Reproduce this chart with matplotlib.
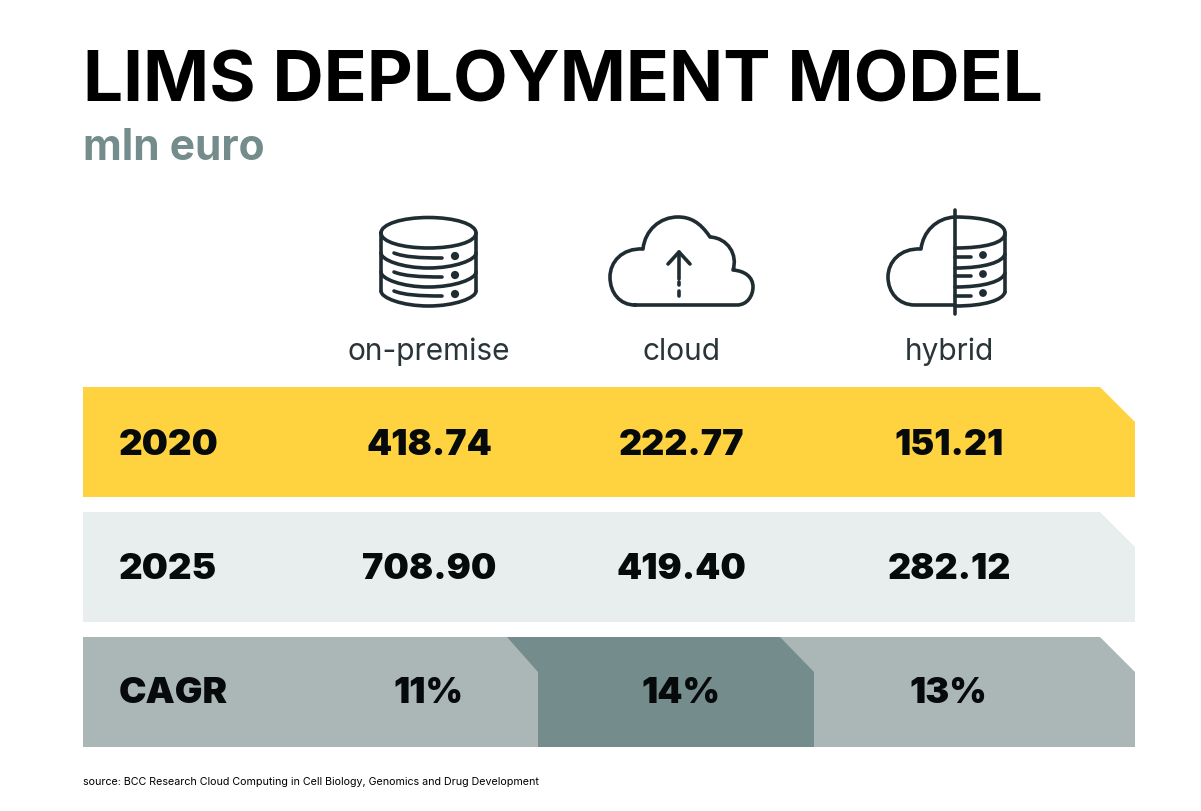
import matplotlib
matplotlib.use("Agg")
import matplotlib.pyplot as plt
from matplotlib.patches import Polygon, Circle, PathPatch
from matplotlib.path import Path

plt.rcParams['font.family'] = ['Inter', 'DejaVu Sans']

title = "LIMS DEPLOYMENT MODEL"
subtitle = "mln euro"
source = "source: BCC Research Cloud Computing in Cell Biology, Genomics and Drug Development"

models = ["on-premise", "cloud", "hybrid"]
row_labels = ["2020", "2025", "CAGR"]
values_2020 = ["418.74", "222.77", "151.21"]
values_2025 = ["708.90", "419.40", "282.12"]
values_cagr = ["11%", "14%", "13%"]

YELLOW = "#FFD23F"
LIGHT = "#E8EDED"
GREY = "#ABB7B7"
DARK = "#748C8C"
INK = "#1F2D32"
TEXT = "#060A0A"

fig = plt.figure(figsize=(12.01, 8.11), dpi=100)
ax = fig.add_axes([0, 0, 1, 1])
ax.set_xlim(0, 1201)
ax.set_ylim(811, 0)
ax.axis("off")


def notched(x0, x1, y0, y1, color, left_cut=None, z=1):
    # band with the cut top right corner
    pts = [(x0, y1), (x0, y0), (x1 - 35, y0), (x1, y0 + 35), (x1, y1)]
    if left_cut:
        pts = [(x0, y1), (x0, y0 + 35), (left_cut, y0), (x1 - 34, y0), (x1, y0 + 35), (x1, y1)]
    ax.add_patch(Polygon(pts, closed=True, fc=color, ec="none", zorder=z))


def stroke(verts, codes=None, lw=2.6):
    if codes is None:
        codes = [Path.MOVETO] + [Path.LINETO] * (len(verts) - 1)
    ax.add_patch(PathPatch(Path(verts, codes), fc="none", ec=INK, lw=lw,
                           capstyle="round", joinstyle="round", zorder=3))


def curve(points):
    # points: start, then (c1, c2, end) triples
    verts = [points[0]]
    codes = [Path.MOVETO]
    for c1, c2, end in points[1:]:
        verts += [c1, c2, end]
        codes += [Path.CURVE4] * 3
    stroke(verts, codes)


# --- bands
notched(83, 1135, 387, 497, YELLOW)
notched(83, 1135, 512, 622, LIGHT)
notched(83, 1135, 637, 747, GREY)
notched(538, 814, 637, 747, DARK, left_cut=507, z=2)

# --- database icon
cx, rx = 428.5, 47.5
curve([(cx - rx, 233), ((cx - rx, 224), (cx - 26, 217.5), (cx, 217.5)), ((cx + 26, 217.5), (cx + rx, 224), (cx + rx, 233)),
       ((cx + rx, 242), (cx + 26, 248), (cx, 248)), ((cx - 26, 248), (cx - rx, 242), (cx - rx, 233))])
stroke([(cx - rx, 233), (cx - rx, 291)])
stroke([(cx + rx, 233), (cx + rx, 291)])
for y_side, y_low in [(253, 268), (272, 287), (291, 306)]:
    curve([(cx - rx, y_side), ((cx - rx, y_low - 8), (cx - 26, y_low), (cx, y_low)),
           ((cx + 26, y_low), (cx + rx, y_low - 8), (cx + rx, y_side))])
for y in [256, 275, 294]:
    curve([(394, y - 3), ((404, y + 1), (420, y + 2), (442, y + 2))])
    ax.add_patch(Circle((455, y), 4.1, fc=INK, ec="none", zorder=3))

# --- cloud icon
curve([(635, 305), ((650, 305), (720, 305), (737, 305)),
       ((747, 305), (753, 296), (753, 287)), ((753, 277), (745, 271), (733, 270)),
       ((738, 255), (728, 238), (710, 237)), ((700, 222), (690, 217), (678, 217)),
       ((660, 217), (645, 230), (643, 249)), ((622, 248), (610, 262), (610, 277)),
       ((610, 293), (620, 305), (635, 305))])
stroke([(679, 252), (679, 279)])
stroke([(668, 264), (679, 252), (690, 264)])
stroke([(679, 282), (679, 285)])
stroke([(679, 291), (679, 296)])

# --- hybrid icon: half cloud, half servers
vx = 955
curve([(vx, 305), ((945, 305), (930, 305), (915, 305)),
       ((898, 305), (888, 292), (888, 277)), ((888, 262), (900, 248), (921, 249)),
       ((923, 232), (936, 218), (vx, 217))])
stroke([(vx, 210), (vx, 314)])
curve([(vx, 217), ((985, 217), (1005, 223), (1005, 233)), ((1005, 243), (985, 248), (vx, 248))])
stroke([(1005, 233), (1005, 292)])
for y_side, y_low in [(254, 268), (273, 287), (292, 306)]:
    curve([(1005, y_side), ((1003, y_low - 6), (985, y_low), (vx, y_low))])
for y in [257, 276, 296]:
    stroke([(vx, y), (971, y)])
for y in [255, 274, 293]:
    ax.add_patch(Circle((983, y), 3.9, fc=INK, ec="none", zorder=3))

# --- text
ax.text(83, 101, title, fontsize=51.2, fontweight="bold", color="black", ha="left", va="baseline")
ax.text(83, 160, subtitle, fontsize=30.6, fontweight="bold", color=DARK, ha="left", va="baseline")

model_x = [429, 681, 949]
for x, name in zip(model_x, models):
    ax.text(x, 360, name, fontsize=21.5, color="#2A3538", ha="center", va="baseline")

rows = [(455, values_2020), (579, values_2025), (703, values_cagr)]
cagr_x = [428, 681, 948]
for (base, vals), label in zip(rows, row_labels):
    ax.text(119, base, label, fontsize=26.5, fontweight="black", color=TEXT, ha="left", va="baseline")
    xs = cagr_x if vals is values_cagr else model_x
    for x, v in zip(xs, vals):
        ax.text(x, base, v, fontsize=25.8, fontweight="black", color=TEXT, ha="center", va="baseline", zorder=4)

ax.text(83, 785, source, fontsize=7.7, color="black", ha="left", va="baseline")

fig.savefig("out.png", dpi=100)
